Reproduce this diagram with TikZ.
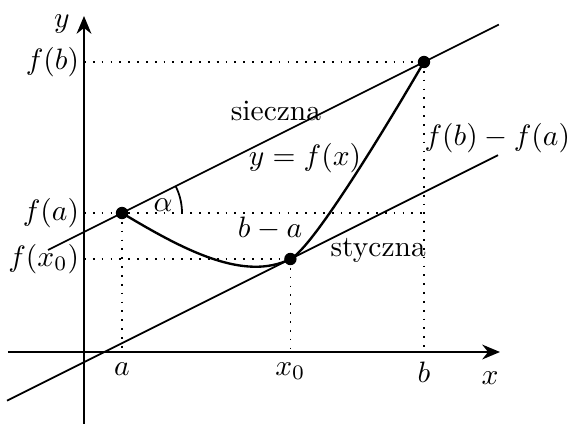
\documentclass[tikz,border=0pt]{standalone}
\usepackage{tikz}
\usetikzlibrary{arrows.meta,positioning,calc}

\begin{document}
\begin{tikzpicture}[
  x=0.4766cm, y=0.4766cm,
  axis/.style={thick, -{Stealth[length=6pt,width=5pt]}},
  graph/.style={thick},
  lin/.style={semithick},
  guide/.style={line width=0.6pt, dash pattern=on 0.6pt off 2.4pt},
  pt/.style={circle, fill=black, inner sep=0pt, minimum size=4.2pt},
  tick/.style={inner sep=1.5pt}
]
\useasboundingbox (-2.1,-1.775) rectangle (12.125,8.8);

%% points
\coordinate (O) at (0,0);
\node[pt] (A) at (0.95,3.475) {};
\node[pt] (T) at (5.16,2.325) {};
\node[pt] (B) at (8.5,7.25)   {};

%% axes
\draw[axis] (-1.9,0) -- (10.4,0) coordinate (xend);
\draw[axis] (0,-1.8) -- (0,8.4) coordinate (yend);
\node (xl) at (10.15,-0.65) {$x$};
\node (yl) at (-0.55,8.2)   {$y$};

%% guide lines
\draw[guide] (0,7.25)  -- (B.center);
\draw[guide] (0,3.475) -- (8.5,3.475);
\draw[guide] (0,2.325) -- (T.center);
\draw[guide] (A.center) -- (0.95,0);
\draw[guide] (T.center) -- (5.16,0);
\draw[guide] (B.center) -- (8.5,0);

%% secant and tangent
\draw[lin] ($(A)!-0.245!(B)$) -- ($(A)!1.248!(B)$);
\draw[lin] ($(T)+(-7.085,-3.5425)$) -- ($(T)+(5.19,2.595)$);

%% graph of f
\draw[graph] (A.center) .. controls (2.49,2.55) and (4.0,1.75) .. (T.center)
             .. controls (5.70,2.59) and (7.45,5.45) .. (B.center);

%% angle
\draw[lin] ($(A)+(1.5,0)$) arc[start angle=0, end angle=26.57, radius=1.5];
\node (alpha) at (1.975,3.675) {$\alpha$};

%% tick labels
\node[tick, left] (fb)  at (0,7.25)  {$f(b)$};
\node[tick, left] (fa)  at (0,3.475) {$f(a)$};
\node[tick, left] (fx0) at (0,2.325) {$f(x_0)$};
\node[below] (la)  at (0.95,0) {$a$};
\node[below] (lx0) at (5.16,0) {$x_0$};
\node[below] (lb)  at (8.5,0)  {$b$};

%% descriptions
\node (sec) at (4.8,6.03)  {sieczna};
\node (fun) at (5.525,4.85) {$y=f(x)$};
\node[right, inner sep=0pt] (dy) at (8.5,5.35) {$f(b)-f(a)$};
\node (dx)  at (4.65,3.1)  {$b-a$};
\node[right, inner sep=0pt] (tan) at (6.15,2.55) {styczna};
\end{tikzpicture}
\end{document}
